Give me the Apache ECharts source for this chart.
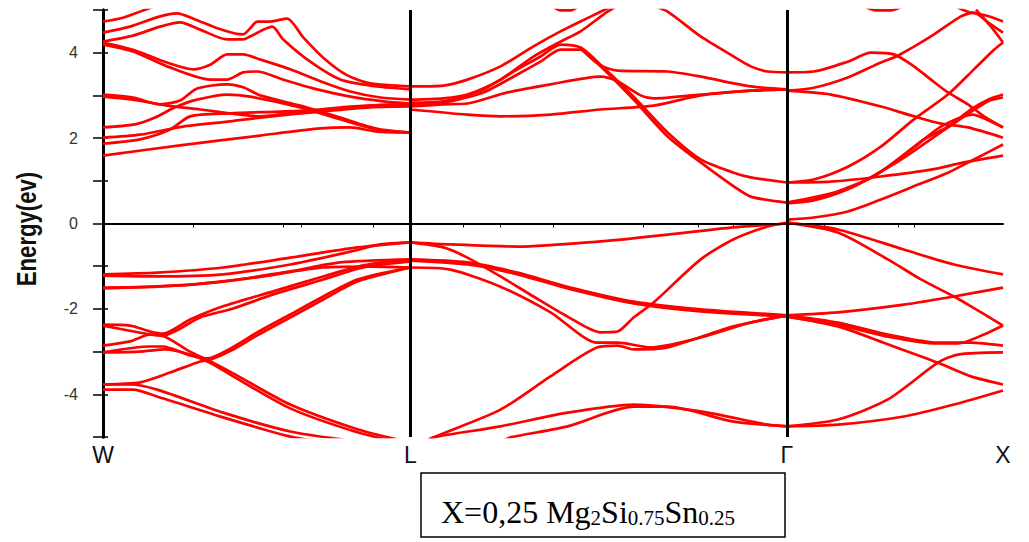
<!DOCTYPE html>
<html>
<head>
<meta charset="utf-8">
<title>Band structure X=0,25 Mg2Si0.75Sn0.25</title>
<script src="https://cdn.jsdelivr.net/npm/echarts@6/dist/echarts.min.js"></script>
<style>
  html, body { margin: 0; padding: 0; background: #fff; }
  #chart { width: 1029px; height: 542px; }
</style>
</head>
<body>
<div id="chart"></div>
<script>
// high-symmetry points along the k-path (arb. path length)
const kPos = [0, 307, 683, 899];
const kLabels = ['W', 'L', 'Γ', 'X'];
// small ticks on the top / bottom frame
const topTicks = [90, 180, 270, 360, 450, 540, 630, 720, 810];
const bottomTicks = [198, 397, 595, 794];

// conduction bands, W -> L
const condWL = [
  [[0,1.59],[77,1.83],[157,2.06],[214,2.22],[247,2.25],[274,2.15],[307,2.13]],
  [[0,1.87],[37,1.97],[67,2.20],[87,2.51],[127,2.58],[177,2.62],[227,2.67],[277,2.76],[307,2.79]],
  [[0,2.01],[37,2.08],[80,2.27],[127,2.39],[157,2.48],[217,2.62],[267,2.72],[307,2.74]],
  [[0,3.02],[30,2.95],[57,2.79],[77,2.88],[94,3.16],[124,3.26],[140,3.19],[157,3.00],[197,2.76],[237,2.48],[274,2.22],[307,2.13]],
  [[0,2.97],[30,2.90],[64,2.76],[97,2.67],[127,2.58],[157,2.51],[197,2.62],[247,2.74],[307,2.81]],
  [[0,2.25],[32,2.32],[52,2.48],[72,2.72],[94,2.90],[124,3.02],[147,2.97],[197,2.72],[237,2.44],[274,2.20],[307,2.13]],
  [[0,4.73],[20,4.82],[40,4.99],[57,5.13]],
  [[0,4.47],[27,4.61],[57,4.85],[74,4.92],[92,4.78],[112,4.59],[132,4.45],[140,4.43],[147,4.57],[154,4.73],[167,4.73],[184,4.80],[200,4.36],[222,3.84],[244,3.47],[267,3.28],[307,3.21]],
  [[0,4.26],[30,4.40],[57,4.61],[77,4.71],[97,4.54],[124,4.31],[140,4.31],[147,4.38],[169,4.61],[180,4.31],[207,3.79],[237,3.37],[267,3.23],[307,3.14]],
  [[0,4.24],[30,4.07],[64,3.77],[90,3.61],[107,3.72],[124,3.96],[140,3.96],[157,3.84],[187,3.61],[217,3.33],[247,3.09],[277,2.95],[307,2.90]],
  [[0,4.19],[30,4.03],[64,3.68],[107,3.37],[124,3.37],[140,3.54],[154,3.56],[180,3.37],[214,3.14],[247,2.97],[280,2.86],[307,2.81]]
];

// conduction bands, L -> Gamma
const condLG = [
  [[307,3.21],[340,3.23],[364,3.37],[397,3.68],[430,4.15],[457,4.50],[477,4.73],[497,4.96],[512,5.13]],
  [[307,2.90],[340,2.93],[364,3.02],[397,3.37],[430,3.91],[457,4.26],[477,4.50],[504,4.96],[517,5.13]],
  [[307,2.83],[340,2.86],[380,3.14],[414,3.61],[437,3.91],[457,4.19],[477,4.12],[497,3.72],[530,2.97],[564,2.13],[597,1.50],[630,1.19],[647,1.08],[683,0.96]],
  [[307,2.79],[340,2.83],[380,3.07],[414,3.49],[437,3.79],[457,4.07],[477,4.07],[497,3.68],[530,2.90],[564,2.04],[597,1.43],[630,0.87],[647,0.63],[683,0.49]],
  [[307,2.74],[340,2.79],[364,2.81],[404,3.07],[447,3.26],[497,3.44],[514,3.33],[537,3.00],[550,2.93],[597,3.02],[647,3.11],[683,3.14]],
  [[307,2.67],[364,2.55],[397,2.51],[447,2.55],[497,2.67],[550,2.76],[597,3.00],[647,3.11],[683,3.14]],
  [[477,4.10],[497,3.70],[514,3.58],[564,3.56],[597,3.44],[647,3.21],[683,3.14]],
  [[547,5.13],[564,4.96],[597,4.38],[630,3.91],[647,3.68],[664,3.56],[683,3.54]],
  [[447,5.13],[457,4.99],[467,4.99],[477,5.13]]
];

// conduction bands, Gamma -> X
const condGX = [
  [[683,3.54],[710,3.56],[744,3.79],[767,4.00],[790,3.96],[810,3.68],[827,3.37],[844,3.07],[864,2.79],[880,2.51],[899,2.25]],
  [[683,3.11],[710,3.18],[744,3.42],[777,3.77],[794,3.93],[827,4.38],[857,4.85],[870,4.94],[884,4.71],[899,4.47]],
  [[683,3.11],[727,3.02],[777,2.74],[810,2.51],[837,2.34],[864,2.25],[899,2.01]],
  [[683,0.96],[710,1.03],[744,1.33],[777,1.80],[810,2.44],[844,3.02],[870,3.61],[890,4.07],[899,4.24]],
  [[683,0.49],[710,0.56],[744,0.84],[770,1.10],[794,1.50],[820,1.97],[844,2.27],[867,2.67],[884,2.90],[899,3.02]],
  [[683,0.47],[710,0.54],[744,0.80],[777,1.22],[810,1.78],[837,2.27],[869,2.55],[882,2.44],[899,2.25]],
  [[683,0.49],[744,0.82],[794,1.45],[844,2.25],[884,2.86],[899,2.95]],
  [[683,0.09],[710,0.14],[744,0.28],[777,0.56],[810,0.87],[844,1.19],[870,1.50],[899,1.85]],
  [[683,0.96],[727,0.98],[777,1.10],[827,1.26],[860,1.43],[899,1.59]],
  [[847,5.13],[864,4.96],[882,4.87],[899,4.73]],
  [[872,5.01],[887,4.61],[899,4.24]],
  [[757,5.13],[772,4.99],[787,4.99],[802,5.13]]
];

// valence bands, W -> L
const valWL = [
  [[0,-1.19],[54,-1.15],[120,-1.03],[187,-0.80],[254,-0.56],[307,-0.44]],
  [[0,-1.22],[54,-1.24],[120,-1.19],[187,-0.96],[247,-0.66],[277,-0.49],[307,-0.44]],
  [[0,-1.50],[54,-1.48],[120,-1.36],[187,-1.12],[237,-0.91],[307,-0.84]],
  [[0,-1.52],[87,-1.43],[154,-1.26],[220,-1.03],[267,-1.01],[307,-1.03]],
  [[0,-2.37],[27,-2.39],[47,-2.53],[60,-2.58],[87,-2.25],[120,-1.94],[170,-1.59],[220,-1.24],[260,-0.98],[307,-0.84]],
  [[0,-2.86],[27,-2.76],[47,-2.60],[60,-2.62],[97,-2.20],[130,-1.99],[170,-1.66],[220,-1.31],[260,-1.03],[307,-0.89]],
  [[0,-3.02],[47,-2.88],[60,-2.88],[87,-3.09],[104,-3.16],[127,-2.93],[154,-2.55],[187,-2.13],[220,-1.71],[254,-1.31],[307,-1.03]],
  [[0,-3.77],[37,-3.72],[67,-3.49],[97,-3.23],[107,-3.19],[130,-2.95],[154,-2.62],[187,-2.20],[220,-1.78],[254,-1.36],[307,-1.03]],
  [[0,-2.39],[47,-2.60],[62,-2.65],[87,-3.00],[104,-3.19],[130,-3.51],[187,-4.24],[254,-4.82],[294,-5.06]],
  [[0,-3.02],[37,-3.00],[62,-2.95],[87,-3.07],[107,-3.26],[130,-3.58],[187,-4.33],[254,-4.89],[294,-5.11]],
  [[0,-3.77],[27,-3.77],[54,-3.89],[120,-4.43],[187,-4.87],[254,-5.11]],
  [[0,-3.89],[30,-3.89],[54,-4.05],[120,-4.54],[187,-4.99],[220,-5.11]]
];

// valence bands, L -> Gamma
const valLG = [
  [[307,-0.44],[347,-0.49],[414,-0.54],[497,-0.42],[564,-0.26],[630,-0.09],[684,0.00]],
  [[307,-0.44],[340,-0.56],[364,-0.80],[397,-1.24],[430,-1.71],[464,-2.18],[497,-2.55],[514,-2.53],[530,-2.20],[550,-1.85],[597,-0.84],[630,-0.37],[664,-0.07],[684,0.02]],
  [[307,-0.84],[364,-0.91],[414,-1.15],[464,-1.48],[530,-1.83],[597,-2.01],[684,-2.15]],
  [[307,-0.87],[364,-0.96],[414,-1.19],[464,-1.52],[530,-1.87],[597,-2.06],[684,-2.18]],
  [[307,-1.03],[347,-1.08],[397,-1.48],[447,-2.08],[494,-2.79],[514,-2.79],[547,-2.90],[597,-2.67],[647,-2.32],[684,-2.15]],
  [[322,-5.11],[330,-5.01],[397,-4.36],[447,-3.58],[494,-2.90],[514,-2.86],[530,-2.95],[564,-2.90],[630,-2.41],[684,-2.15]],
  [[322,-5.11],[330,-5.01],[397,-4.75],[464,-4.43],[530,-4.24],[597,-4.40],[664,-4.71],[684,-4.75]],
  [[397,-5.11],[407,-5.01],[464,-4.75],[530,-4.29],[564,-4.29],[630,-4.64],[684,-4.75]]
];

// valence bands, Gamma -> X
const valGX = [
  [[683,0.02],[734,-0.14],[800,-0.61],[850,-0.96],[899,-1.19]],
  [[683,0.02],[734,-0.21],[784,-0.84],[817,-1.31],[850,-1.71],[867,-1.94],[899,-2.39]],
  [[683,-2.15],[734,-2.08],[800,-1.90],[850,-1.71],[899,-1.50]],
  [[683,-2.15],[734,-2.32],[784,-2.60],[834,-2.79],[867,-2.79],[899,-2.86]],
  [[683,-2.18],[734,-2.37],[784,-2.65],[834,-2.81],[854,-2.81],[880,-2.60],[899,-2.39]],
  [[683,-2.18],[734,-2.41],[784,-2.83],[834,-3.26],[867,-3.58],[899,-3.77]],
  [[683,-4.75],[734,-4.59],[784,-4.12],[834,-3.26],[854,-3.07],[899,-3.02]],
  [[683,-4.75],[734,-4.71],[800,-4.52],[850,-4.24],[899,-3.91]]
];

const bands = [].concat(condWL, condLG, condGX, valWL, valLG, valGX);

const chart = echarts.init(document.getElementById('chart'), null, { renderer: 'svg' });

const series = bands.map((b) => ({
  type: 'line',
  data: b,
  showSymbol: false,
  smooth: 0.25,
  silent: true,
  lineStyle: { color: '#ff0000', width: 2.7 },
  z: 2
}));

// black guide lines: L and Gamma verticals, Fermi level
series.push({
  type: 'line',
  data: [],
  silent: true,
  z: 3,
  markLine: {
    silent: true,
    symbol: ['none', 'none'],
    label: { show: false },
    emphasis: { disabled: true },
    data: [
      { xAxis: kPos[1], lineStyle: { color: '#000', width: 3, type: 'solid' } },
      { xAxis: kPos[2], lineStyle: { color: '#000', width: 3, type: 'solid' } },
      { yAxis: 0, lineStyle: { color: '#000', width: 1.5, type: 'solid' } }
    ]
  }
});

const option = {
  animation: false,
  backgroundColor: '#fff',
  grid: { left: 103, right: 26, top: 10, bottom: 105 },
  xAxis: [
    {
      type: 'value',
      position: 'bottom',
      min: 0,
      max: kPos[3],
      axisLine: { lineStyle: { color: '#222', width: 2 } },
      axisTick: { customValues: bottomTicks, length: 4, lineStyle: { color: '#222' } },
      axisLabel: {
        customValues: kPos,
        showMinLabel: true,
        showMaxLabel: true,
        formatter: (v) => kLabels[kPos.indexOf(v)],
        fontFamily: 'Liberation Sans',
        fontSize: 23,
        color: '#111',
        margin: 6
      },
      splitLine: { show: false }
    },
    {
      type: 'value',
      position: 'top',
      min: 0,
      max: kPos[3],
      axisLine: { lineStyle: { color: '#000', width: 1.5 } },
      axisTick: { customValues: topTicks, inside: true, length: 4, lineStyle: { color: '#000' } },
      axisLabel: { show: false },
      splitLine: { show: false }
    }
  ],
  yAxis: [
    {
      type: 'value',
      position: 'left',
      min: -5,
      max: 5,
      interval: 1,
      axisLine: { show: true, lineStyle: { color: '#000', width: 3 } },
      axisTick: { show: true, length: 10, lineStyle: { color: '#000', width: 1.5 } },
      axisLabel: {
        formatter: (v) => (v % 2 === 0 ? String(v) : ''),
        fontFamily: 'Liberation Sans',
        fontSize: 16,
        color: '#333',
        margin: 25
      },
      splitLine: { show: false }
    },
    {
      type: 'value',
      position: 'right',
      min: -5,
      max: 5,
      interval: 1,
      axisLine: { show: true, lineStyle: { color: '#000', width: 3 } },
      axisTick: { show: true, length: 5, lineStyle: { color: '#000', width: 1.5 } },
      axisLabel: { show: false },
      splitLine: { show: false }
    }
  ],
  graphic: [
    {
      type: 'text',
      x: 27,
      y: 229,
      rotation: Math.PI / 2,
      scaleX: 0.82,
      silent: true,
      style: {
        text: 'Energy(ev)',
        fontFamily: 'Liberation Sans',
        fontWeight: 'bold',
        fontSize: 27,
        fill: '#111',
        align: 'center',
        verticalAlign: 'middle'
      }
    },
    {
      type: 'rect',
      silent: true,
      shape: { x: 421, y: 473, width: 364, height: 64 },
      style: { fill: 'none', stroke: '#000', lineWidth: 1.5 }
    },
    {
      type: 'text',
      x: 441,
      y: 528,
      silent: true,
      style: {
        text: '{b|X=0,25 Mg}{s|2}{b|Si}{s|0.75}{b|Sn}{s|0.25}',
        align: 'left',
        verticalAlign: 'bottom',
        fill: '#000',
        rich: {
          b: { fontFamily: 'Liberation Serif', fontSize: 32, lineHeight: 32, verticalAlign: 'bottom', fill: '#000' },
          s: { fontFamily: 'Liberation Serif', fontSize: 21, lineHeight: 21, verticalAlign: 'bottom', fill: '#000' }
        }
      }
    }
  ],
  series
};

chart.setOption(option);
</script>
</body>
</html>
